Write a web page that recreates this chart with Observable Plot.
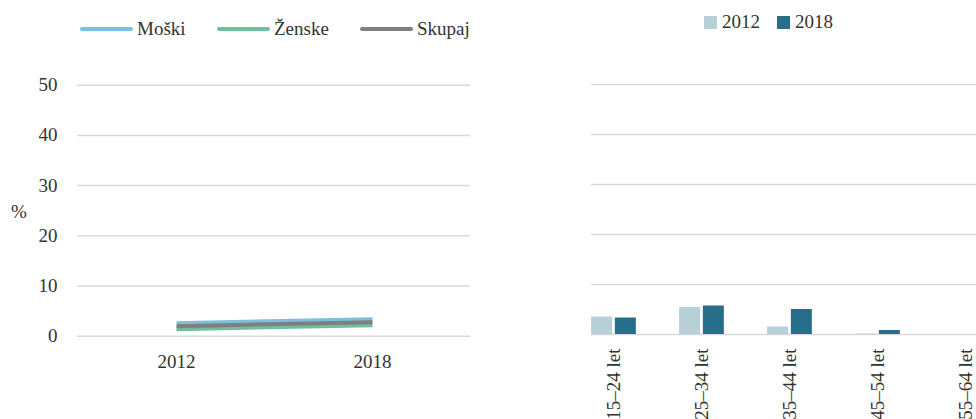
<!DOCTYPE html>
<html>
<head>
<meta charset="utf-8">
<script src="https://cdn.jsdelivr.net/npm/d3@7"></script>
<script src="https://cdn.jsdelivr.net/npm/@observablehq/plot@0.6"></script>
<style>
  html, body { margin: 0; padding: 0; background: #fff; }
  #wrap { position: relative; width: 976px; height: 419px; overflow: hidden; font-family: "Liberation Serif", serif; color: #333; }
  .abs { position: absolute; }
  .lg { position: absolute; font-size: 19px; line-height: 19px; color: #333; white-space: nowrap; }
  .lgline { position: absolute; height: 4px; border-radius: 2px; }
  .lgsq { position: absolute; width: 13px; height: 13px; }
  #wrap svg { max-width: none !important; }
</style>
</head>
<body>
<div id="wrap">
  <div id="left" class="abs" style="left:0;top:0;width:480px"></div>
  <div id="right" class="abs" style="left:560px;top:0;width:460px"></div>
</div>
<script>
// ---- data ----
const years = ["2012", "2018"];
const seriesNames = ["Moški", "Ženske", "Skupaj"];
const moski = [2.6, 3.4];
const zenske = [1.4, 2.2];
const skupaj = [2.0, 2.8];
const lineColors = ["#7dbfdf", "#6fbf9f", "#7f7f7f"];

const ageGroups = ["15–24 let", "25–34 let", "35–44 let", "45–54 let", "55–64 let"];
const barYears = ["2012", "2018"];
const bar2012 = [3.5, 5.4, 1.5, 0.1, 0];
const bar2018 = [3.3, 5.7, 5.0, 0.8, 0];
const barColors = ["#b7cfd6", "#286e8a"];

const yTicks = [0, 10, 20, 30, 40, 50];

// ---- build tables ----
const lineData = [];
[moski, zenske, skupaj].forEach((arr, s) => {
  arr.forEach((v, i) => lineData.push({series: seriesNames[s], year: years[i], value: v}));
});
const bars12 = ageGroups.map((a, i) => ({age: a, year: barYears[0], value: bar2012[i]}));
const bars18 = ageGroups.map((a, i) => ({age: a, year: barYears[1], value: bar2018[i]}));

const mkFont = () => ({fontFamily: "'Liberation Serif', serif", fontSize: "19px", color: "#333", background: "transparent", overflow: "visible", maxWidth: "none"});
const grid = "#d9d9d9";

// ---- left chart: lines ----
const left = Plot.plot({
  width: 480,
  height: 419,
  marginLeft: 77,
  marginRight: 10,
  marginTop: 84.7,
  marginBottom: 83.3,
  style: mkFont(),
  x: {type: "point", domain: years, padding: 0.5},
  y: {domain: [0, 50]},
  color: {domain: seriesNames, range: lineColors},
  marks: [
    Plot.gridY(yTicks, {stroke: grid, strokeOpacity: 1, strokeWidth: 1.5}),
    Plot.axisY(yTicks, {tickSize: 0, tickPadding: 20, label: null, fill: "#333", fontSize: 19}),
    Plot.axisX({tickSize: 0, tickPadding: 18, label: null, fill: "#333", fontSize: 19}),
    ...seriesNames.map(s => Plot.line(lineData.filter(d => d.series === s), {
      x: "year", y: "value", stroke: "series", strokeWidth: 4, strokeLinecap: "butt"
    }))
  ]
});
document.getElementById("left").appendChild(left);

// ---- right chart: bars ----
const svgLeft = 560;
const step = 88.0;
const r0 = 613.5 - step / 2 - svgLeft;
const bw = 21;
const pInner = 1 - bw / step;
const right = Plot.plot({
  width: 460,
  height: 419,
  marginLeft: 31,
  marginRight: 0,
  marginTop: 84,
  marginBottom: 85,
  style: mkFont(),
  x: {domain: ageGroups, range: [r0, r0 + step * ageGroups.length], paddingInner: pInner, paddingOuter: pInner / 2, round: false},
  y: {domain: [0, 50], axis: null},
  color: {domain: barYears, range: barColors},
  marks: [
    Plot.gridY(yTicks, {stroke: grid, strokeOpacity: 1, strokeWidth: 1.5}),
    Plot.barY(bars12, {x: "age", y: "value", fill: "year", dx: -11.85}),
    Plot.barY(bars18, {x: "age", y: "value", fill: "year", dx: 11.85}),
    Plot.axisX({tickSize: 0, tickPadding: 14, tickRotate: -90, label: null, fill: "#333", fontSize: 19})
  ]
});
document.getElementById("right").appendChild(right);

// ---- legends (HTML) ----
const wrap = document.getElementById("wrap");
const lgLeft = [80, 217, 360];
seriesNames.forEach((s, i) => {
  const ln = document.createElement("div");
  ln.className = "lgline";
  ln.style.left = lgLeft[i] + "px";
  ln.style.top = "27px";
  ln.style.width = "53px";
  ln.style.background = lineColors[i];
  wrap.appendChild(ln);
  const t = document.createElement("div");
  t.className = "lg";
  t.style.left = (lgLeft[i] + 57) + "px";
  t.style.top = "19px";
  t.textContent = s;
  wrap.appendChild(t);
});
const lgRight = [704, 777];
barYears.forEach((y, i) => {
  const sq = document.createElement("div");
  sq.className = "lgsq";
  sq.style.left = lgRight[i] + "px";
  sq.style.top = "16px";
  sq.style.background = barColors[i];
  wrap.appendChild(sq);
  const t = document.createElement("div");
  t.className = "lg";
  t.style.left = (lgRight[i] + 18) + "px";
  t.style.top = "12px";
  t.textContent = y;
  wrap.appendChild(t);
});
const pct = document.createElement("div");
pct.className = "lg";
pct.style.left = "11px";
pct.style.top = "202px";
pct.textContent = "%";
wrap.appendChild(pct);
</script>
</body>
</html>
